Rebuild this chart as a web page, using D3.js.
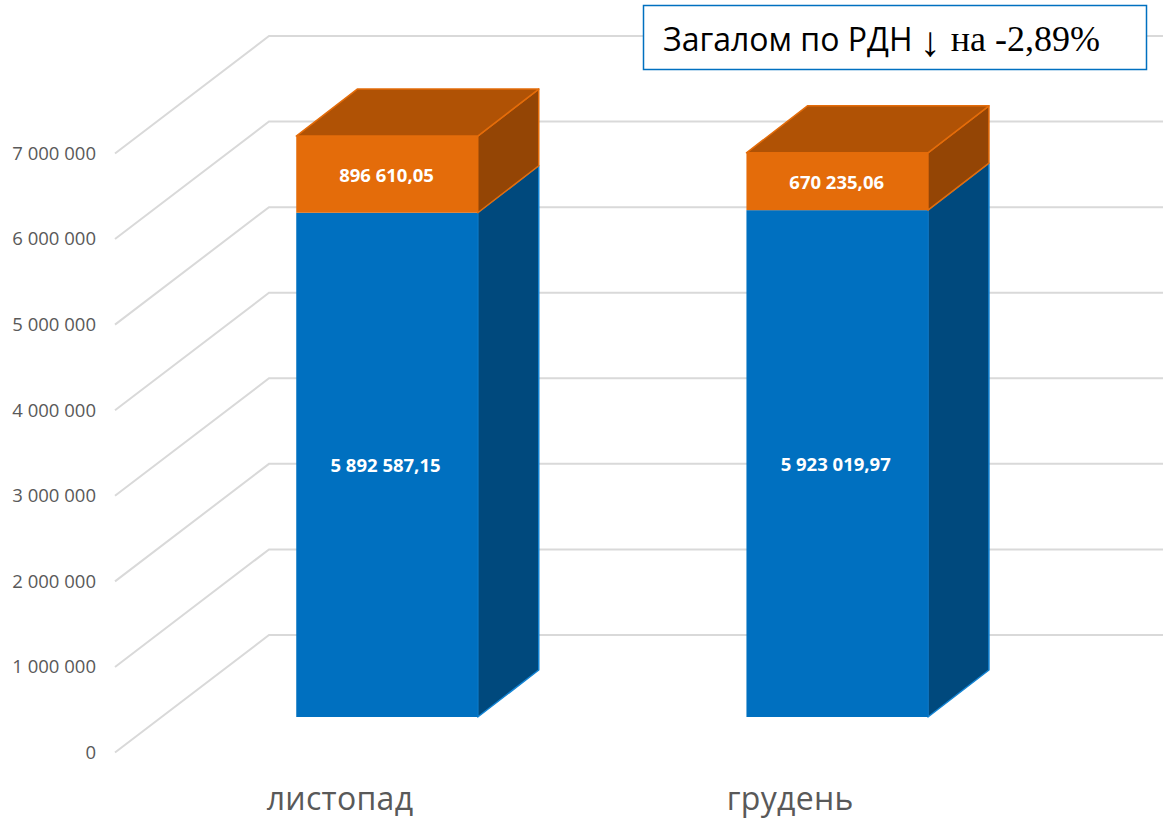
<!DOCTYPE html>
<html><head><meta charset="utf-8">
<script src="https://cdn.jsdelivr.net/npm/d3@7/dist/d3.min.js"></script>
<style>html,body{margin:0;padding:0;background:#fff;overflow:hidden}svg{display:block}</style>
</head><body>
<script>
const categories = ["листопад","грудень"];
const seriesBlue = [5892587.15,5923019.97];
const seriesOrange = [896610.05,670235.06];
const labelsBlue = ["5 892 587,15","5 923 019,97"];
const labelsOrange = ["896 610,05","670 235,06"];
const tickValues = [0,1e6,2e6,3e6,4e6,5e6,6e6,7e6];
const titleA = "Загалом по РДН ";
const titleArrow = "↓";
const titleB = "на -2,89%";

const W=1163,H=820;
const svg=d3.select("body").append("svg").attr("width",W).attr("height",H);

const y=d3.scaleLinear().domain([0,7e6]).range([752.5,153.5]);
const depth={dx:154,dy:-117.5};
const wallRight=1163;
const barDepth={dx:61,dy:-47};
const barBaseShift=-35.5;
const x=d3.scalePoint().domain(categories).range([387,837.2]);
const barW=181.5;
const colors={blue:{front:"#0070c0",side:"#00497d",edge:"#1384d4"},
 orange:{front:"#e46c0a",side:"#944505",top:"#b05205",edge:"#e46c0a"}};

// grid
const grid=svg.append("g").attr("fill","none").attr("stroke","#d9d9d9").attr("stroke-width",2);
grid.selectAll("path").data(tickValues).join("path")
 .attr("d",v=>`M115,${y(v)}L${115+depth.dx},${y(v)+depth.dy}H${wallRight}`);

// y axis
const fmt=d3.formatLocale({decimal:",",thousands:" ",grouping:[3],currency:["",""]}).format(",.0f");
const axis=svg.append("g").attr("transform","translate(96,0)")
 .call(d3.axisLeft(y).tickValues(tickValues).tickFormat(fmt).tickSize(0).tickPadding(0));
axis.select(".domain").remove();
axis.selectAll("text").attr("fill","#595959").style("font-family","'Open Sans'").style("font-size","18.5px");

// bars
const poly=(pts)=>"M"+pts.map(p=>p.join(",")).join("L")+"Z";
const bars=svg.selectAll(".bar").data(categories).join("g").attr("class","bar");
bars.each(function(c,i){
 const g=d3.select(this);
 const xl=x(c)-barW/2,xr=x(c)+barW/2;
 const y0=y(0)+barBaseShift,y1=y(seriesBlue[i])+barBaseShift,y2=y(seriesBlue[i]+seriesOrange[i])+barBaseShift;
 const d=barDepth;
 g.append("path").attr("d",poly([[xr,y0],[xr+d.dx,y0+d.dy],[xr+d.dx,y1+d.dy],[xr,y1]]))
  .attr("fill",colors.blue.side).attr("stroke",colors.blue.edge).attr("stroke-width",1.5).attr("stroke-linejoin","round");
 g.append("rect").attr("x",xl).attr("y",y1).attr("width",barW).attr("height",y0-y1)
  .attr("fill",colors.blue.front);
 g.append("path").attr("d",poly([[xr,y1],[xr+d.dx,y1+d.dy],[xr+d.dx,y2+d.dy],[xr,y2]]))
  .attr("fill",colors.orange.side).attr("stroke",colors.orange.edge).attr("stroke-width",1.5).attr("stroke-linejoin","round");
 g.append("path").attr("d",poly([[xl,y2],[xl+d.dx,y2+d.dy],[xr+d.dx,y2+d.dy],[xr,y2]]))
  .attr("fill",colors.orange.top).attr("stroke",colors.orange.edge).attr("stroke-width",1.5).attr("stroke-linejoin","round");
 g.append("rect").attr("x",xl).attr("y",y2).attr("width",barW).attr("height",y1-y2)
  .attr("fill",colors.orange.front);
 const lab=(t,cx,cy)=>g.append("text").attr("x",cx).attr("y",cy).attr("text-anchor","middle")
  .attr("dominant-baseline","central").attr("fill","#fff")
  .style("font-family","'Open Sans'").style("font-weight","700").style("font-size","18.5px").text(t);
 lab(labelsBlue[i],x(c)-1.5,(y0+y1)/2);
 lab(labelsOrange[i],x(c)-0.5,(y1+y2)/2);
 g.append("text").attr("x",x(c)-47).attr("y",810).attr("text-anchor","middle").attr("fill","#595959")
  .style("font-family","'Open Sans'").style("font-size","32px").style("letter-spacing","0.3px").text(c);
});

// title box
svg.append("rect").attr("x",643.5).attr("y",5.5).attr("width",503).attr("height",64)
 .attr("fill","#fff").attr("stroke","#0070c0").attr("stroke-width",1.5);
const base=51;
svg.append("text").attr("x",663).attr("y",base).attr("fill","#000")
 .style("font-family","'Open Sans'").style("font-size","32px").text(titleA);
svg.append("text").attr("x",930).attr("y",base+5).attr("text-anchor","middle").attr("fill","#000")
 .style("font-family","'Liberation Serif'").style("font-size","42px").text(titleArrow);
svg.append("text").attr("x",1100).attr("y",base).attr("text-anchor","end").attr("fill","#000")
 .style("font-family","'Liberation Serif'").style("font-size","36px").text(titleB);
</script>
</body></html>
